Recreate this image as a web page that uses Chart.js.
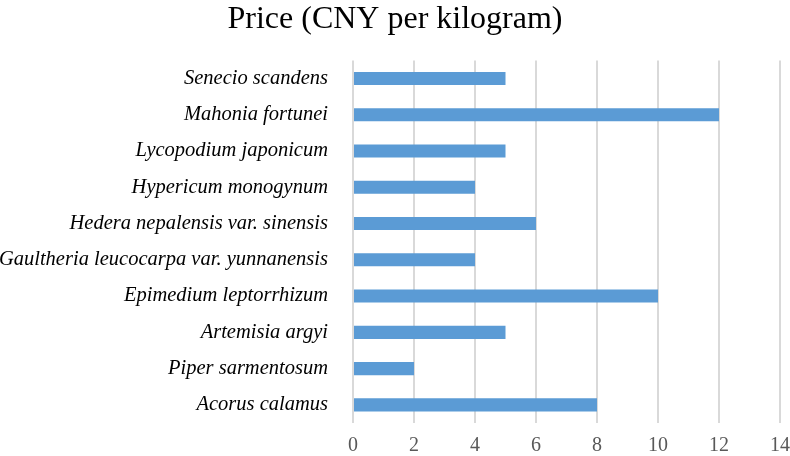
<html><head>
<meta charset="UTF-8">
<title>Price (CNY per kilogram)</title>
<script src="https://cdn.jsdelivr.net/npm/chart.js"></script>
<style>
body { margin: 0; background: white; }
#wrap { width: 790px; height: 456px; }
</style>
</head>
<body>
<div id="wrap"><canvas id="priceChart" width="790" height="456"></canvas></div>
<script>
const species = [
  'Senecio scandens',
  'Mahonia fortunei',
  'Lycopodium japonicum',
  'Hypericum monogynum',
  'Hedera nepalensis var. sinensis',
  'Gaultheria leucocarpa var. yunnanensis',
  'Epimedium leptorrhizum',
  'Artemisia argyi',
  'Piper sarmentosum',
  'Acorus calamus'
];
const prices = [5, 12, 5, 4, 6, 4, 10, 5, 2, 8];
const xMin = 0, xMax = 14, xStep = 2;

const serif = "'Liberation Serif', 'Times New Roman', serif";

new Chart(document.getElementById('priceChart'), {
  type: 'bar',
  data: {
    labels: species,
    datasets: [{
      data: prices,
      backgroundColor: '#5b9bd5',
      barPercentage: 0.36,
      categoryPercentage: 1
    }]
  },
  options: {
    indexAxis: 'y',
    responsive: false,
    animation: false,
    layout: { padding: 0 },
    plugins: {
      legend: { display: false },
      tooltip: { enabled: false },
      title: {
        display: true,
        text: 'Price (CNY per kilogram)',
        color: '#000',
        font: { family: serif, size: 32, weight: 'normal' },
        padding: { top: 0, bottom: 22 }
      }
    },
    scales: {
      x: {
        min: xMin,
        max: xMax,
        ticks: {
          stepSize: xStep,
          color: '#595959',
          font: { family: serif, size: 20 },
          padding: 11
        },
        grid: { color: '#d9d9d9', lineWidth: 2, drawTicks: false },
        border: { display: false },
        afterFit: (s) => { s.height = 33; s.paddingRight = 10; s.paddingLeft = 0; }
      },
      y: {
        ticks: {
          color: '#000',
          font: { family: serif, size: 20.5, style: 'italic' },
          padding: 17
        },
        grid: { display: false },
        border: { display: false },
        afterFit: (s) => { s.width = 353; }
      }
    }
  }
});
</script>
</body></html>
